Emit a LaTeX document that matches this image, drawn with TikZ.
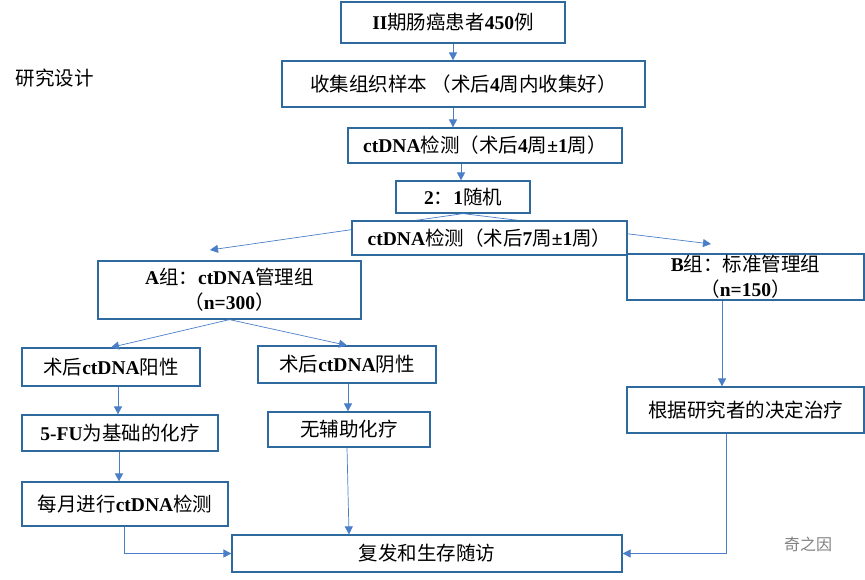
\documentclass[tikz,border=0pt]{standalone}
\usepackage{fontspec}
\setmainfont{Noto Sans CJK SC}
\newfontfamily\latfont{Liberation Serif}
\newcommand{\en}[1]{{\latfont\bfseries #1}}
\usetikzlibrary{arrows.meta}
\definecolor{boxblue}{HTML}{2E6A9E}
\definecolor{linkblue}{HTML}{4A7FC8}
\tikzset{
  stepbox/.style={draw=boxblue, line width=1.2pt, fill=white, inner sep=0pt, align=center},
  link/.style={draw=linkblue, line width=0.7pt, -{Triangle[length=8pt,width=8pt]}},
}
\begin{document}
\begin{tikzpicture}[x=1pt, y=-1pt, font=\fontsize{19.5}{25}\selectfont]
    \useasboundingbox (0,0) rectangle (865,579);

    % --- top column ---
    \node[stepbox, minimum width=224, minimum height=41] (patients) at (453,22.5) {\en{II}期肠癌患者\en{450}例};
    \node[stepbox, minimum width=363, minimum height=46] (tissue) at (463.5,84) {收集组织样本 （术后\en{4}周内收集好）};
    \node[stepbox, minimum width=274, minimum height=35] (test1) at (485,145.5) {\en{ctDNA}检测（术后\en{4}周\en{±1}周）};
    \node[stepbox, minimum width=134, minimum height=32] (random) at (463,197) {\en{2}：\en{1}随机};
    \node (label) at (55,78) {研究设计};

    % --- arms ---
    \coordinate (splitA) at (210,250);
    \coordinate (splitB) at (711,244);
    \draw[link] (random.south) -- (splitA);
    \draw[link] (random.south) -- (splitB);
    \node[stepbox, minimum width=275, minimum height=34] (test2) at (489.5,238) {\en{ctDNA}检测（术后\en{7}周\en{±1}周）};
    \node[stepbox, minimum width=263, minimum height=58] (armA) at (229.5,290) {\en{A}组：\en{ctDNA}管理组\\（\en{n=300}）};
    \node[stepbox, minimum width=237, minimum height=46] (armB) at (745.5,277) {\en{B}组：标准管理组\\（\en{n=150}）};

    % --- arm A branches ---
    \node[stepbox, minimum width=178, minimum height=38] (pos) at (111,367) {术后\en{ctDNA}阳性};
    \node[stepbox, minimum width=178, minimum height=37] (neg) at (347,364.5) {术后\en{ctDNA}阴性};
    \node[stepbox, minimum width=196, minimum height=36] (chemo) at (120,433) {\en{5-FU}为基础的化疗};
    \node[stepbox, minimum width=162, minimum height=35] (nochemo) at (349,429.5) {无辅助化疗};
    \node[stepbox, minimum width=206, minimum height=44] (monthly) at (125,504) {每月进行\en{ctDNA}检测};
    \node[stepbox, minimum width=237, minimum height=46] (choice) at (745.5,410) {根据研究者的决定治疗};
    \node[stepbox, minimum width=390, minimum height=37] (follow) at (427,553.5) {复发和生存随访};
    \node[text=gray] (mark) at (808,544) {\fontsize{16}{18}\selectfont 奇之因};

    % --- connectors ---
    \draw[link] (patients.south) -- (patients.south |- tissue.north);
    \draw[link] (patients.south |- tissue.south) -- (patients.south |- test1.north);
    \draw[link] (461,0 |- test1.south) -- (461,0 |- random.north);
    \draw[link] (armA.south) -- (pos.north);
    \draw[link] (armA.south) -- (neg.north);
    \draw[link] (118,0 |- pos.south) -- (118,0 |- chemo.north);
    \draw[link] (119,0 |- chemo.south) -- (119,0 |- monthly.north);
    \draw[link] (348,0 |- neg.south) -- (348,0 |- nochemo.north);
    \draw[link] (347,0 |- nochemo.south) -- (349,0 |- follow.north);
    \draw[link] (722,0 |- armB.south) -- (722,0 |- choice.north);
    \draw[link] (124,0 |- monthly.south) |- (follow.west);
    \draw[link] (726,0 |- choice.south) |- (follow.east);
\end{tikzpicture}
\end{document}
